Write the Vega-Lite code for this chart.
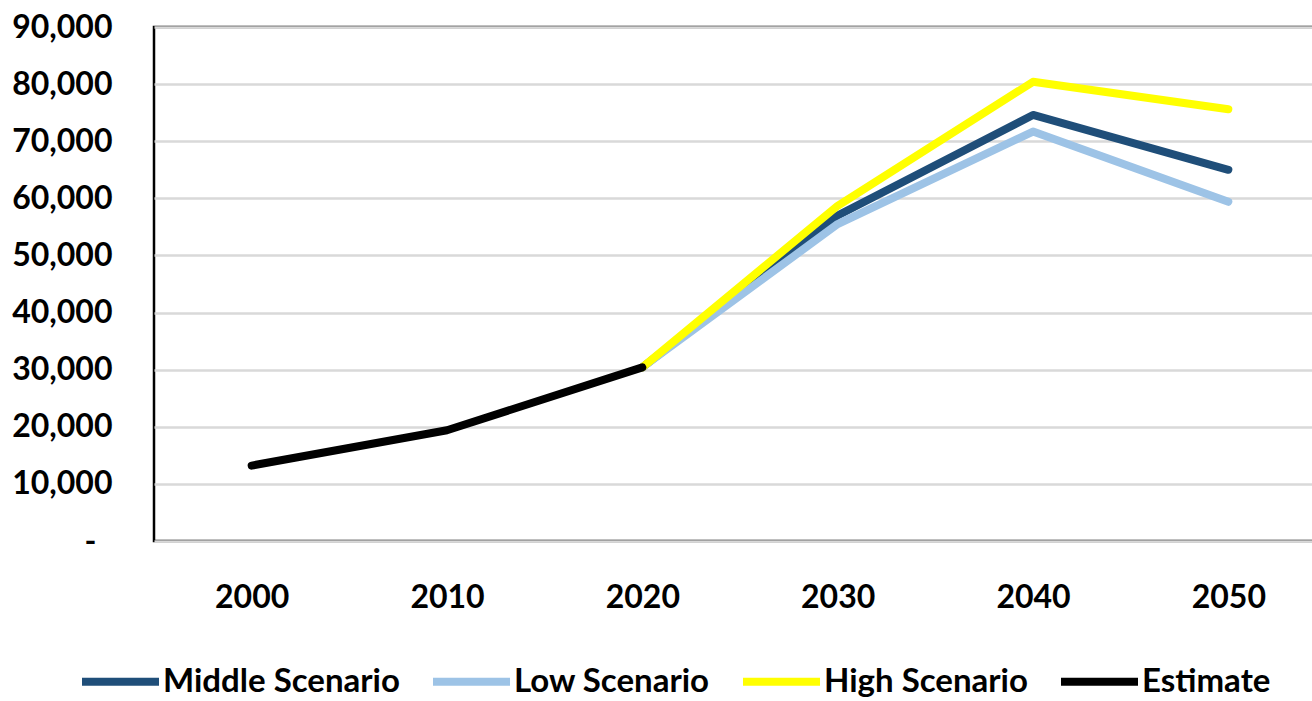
{
  "$schema": "https://vega.github.io/schema/vega-lite/v6.json",
  "width": 1172,
  "height": 514,
  "autosize": "none",
  "padding": {"left": 154, "top": 27, "right": 0, "bottom": 160},
  "background": "#ffffff",
  "config": {
    "font": "Lato",
    "view": {"stroke": "#000000", "strokeWidth": 2.5}
  },
  "data": {
    "values": [
      {"year": "2020", "series": "Middle Scenario", "value": 30400},
      {"year": "2030", "series": "Middle Scenario", "value": 57000},
      {"year": "2040", "series": "Middle Scenario", "value": 74600},
      {"year": "2050", "series": "Middle Scenario", "value": 65000},
      {"year": "2020", "series": "Low Scenario", "value": 30400},
      {"year": "2030", "series": "Low Scenario", "value": 55500},
      {"year": "2040", "series": "Low Scenario", "value": 71700},
      {"year": "2050", "series": "Low Scenario", "value": 59400},
      {"year": "2020", "series": "High Scenario", "value": 30400},
      {"year": "2030", "series": "High Scenario", "value": 58700},
      {"year": "2040", "series": "High Scenario", "value": 80400},
      {"year": "2050", "series": "High Scenario", "value": 75600},
      {"year": "2000", "series": "Estimate", "value": 13200},
      {"year": "2010", "series": "Estimate", "value": 19400},
      {"year": "2020", "series": "Estimate", "value": 30400}
    ]
  },
  "mark": {"type": "line", "strokeWidth": 8, "strokeCap": "round", "strokeJoin": "round"},
  "encoding": {
    "x": {
      "field": "year",
      "type": "ordinal",
      "sort": ["2000", "2010", "2020", "2030", "2040", "2050"],
      "scale": {"domain": ["2000", "2010", "2020", "2030", "2040", "2050"], "type": "point", "padding": 0.5},
      "axis": {
        "title": null,
        "labelAngle": 0,
        "ticks": false,
        "domain": false,
        "grid": false,
        "labelFont": "Lato",
        "labelFontWeight": "bold",
        "labelFontSize": 32,
        "labelColor": "#000000",
        "labelPadding": 41
      }
    },
    "y": {
      "field": "value",
      "type": "quantitative",
      "scale": {"domain": [0, 90000], "nice": false},
      "axis": {
        "title": null,
        "values": [0, 10000, 20000, 30000, 40000, 50000, 60000, 70000, 80000, 90000],
        "labelExpr": "datum.value == 0 ? '-' : format(datum.value, ',')",
        "ticks": false,
        "domain": false,
        "grid": true,
        "gridColor": "#d9d9d9",
        "gridWidth": 2.5,
        "labelFont": "Lato",
        "labelFontWeight": "bold",
        "labelFontSize": 32,
        "labelColor": "#000000",
        "labelPadding": {"condition": {"test": "datum.value == 0", "value": 58}, "value": 42}
      }
    },
    "color": {
      "field": "series",
      "type": "nominal",
      "scale": {
        "domain": ["Middle Scenario", "Low Scenario", "High Scenario", "Estimate"],
        "range": ["#1f4e79", "#9dc3e6", "#ffff00", "#000000"]
      },
      "legend": {
        "title": null,
        "orient": "none",
        "direction": "horizontal",
        "legendX": -76,
        "legendY": 612,
        "symbolType": "stroke",
        "symbolSize": 5929,
        "symbolStrokeWidth": 8,
        "labelFont": "Lato",
        "labelFontWeight": "bold",
        "labelFontSize": 33,
        "labelColor": "#000000",
        "labelOffset": 0,
        "columnPadding": 17,
        "labelLimit": 400
      }
    }
  }
}
